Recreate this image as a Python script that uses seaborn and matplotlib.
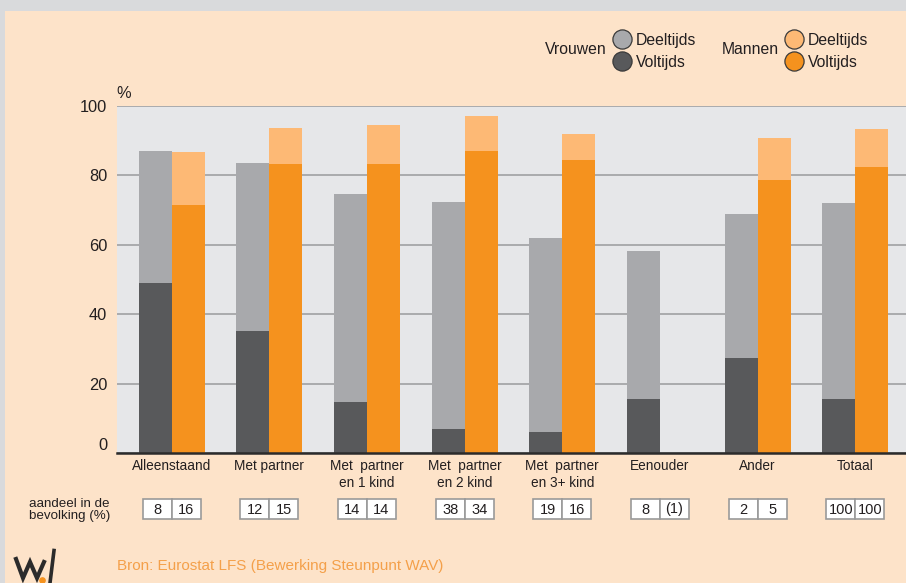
import numpy as np
import pandas as pd
import matplotlib.pyplot as plt
import seaborn as sns
from matplotlib import font_manager
from matplotlib.patches import Rectangle
from matplotlib.lines import Line2D
from matplotlib.transforms import blended_transform_factory

groepen = ['Alleenstaand', 'Met partner', 'Met  partner\nen 1 kind', 'Met  partner\nen 2 kind',
           'Met  partner\nen 3+ kind', 'Eenouder', 'Ander', 'Totaal']
vrouwen_totaal = [87.1, 83.6, 74.7, 72.2, 61.8, 58.1, 68.7, 71.9]
vrouwen_voltijds = [48.9, 35.1, 14.7, 7.0, 6.1, 15.6, 27.4, 15.6]
mannen_totaal = [86.8, 93.7, 94.5, 97.1, 92.0, np.nan, 90.8, 93.4]
mannen_voltijds = [71.3, 83.1, 83.1, 87.1, 84.5, np.nan, 78.5, 82.5]
aandeel_vrouwen = ['8', '12', '14', '38', '19', '8', '2', '100']
aandeel_mannen = ['16', '15', '14', '34', '16', '(1)', '5', '100']
yticks = [0, 20, 40, 60, 80, 100]

# kleuren
PEACH = '#fde3c9'
GRIJS_RAND = '#d9dadc'
PLOT_BG = '#e6e7e9'
V_DEEL, V_VOL = '#a8a9ac', '#58595b'
M_DEEL, M_VOL = '#fdb975', '#f5921e'
TXT = '#231f20'

names = {f.name for f in font_manager.fontManager.ttflist}
NARROW = 'Liberation Sans Narrow' if 'Liberation Sans Narrow' in names else 'Liberation Sans'
REG = 'Liberation Sans'
narrow_ok = NARROW != REG

df = pd.DataFrame({
    'groep': groepen * 2,
    'geslacht': ['Vrouwen'] * 8 + ['Mannen'] * 8,
    'totaal': vrouwen_totaal + mannen_totaal,
    'voltijds': vrouwen_voltijds + mannen_voltijds,
})

W, H = 906, 583
fig = plt.figure(figsize=(W / 100, H / 100), dpi=100)
fig.patch.set_facecolor(GRIJS_RAND)
fig.add_artist(Rectangle((5.3 / W, 0), 1, 1 - 11 / H, transform=fig.transFigure,
                         facecolor=PEACH, edgecolor='none', zorder=-5))


def fx(x):
    return x / W


def fy(y):
    return 1 - y / H


ax = fig.add_axes([fx(117), fy(453.3), (W - 117) / W, (453.3 - 105.7) / H])
ax.set_facecolor(PLOT_BG)

sns.barplot(data=df, x='groep', y='totaal', hue='geslacht', order=groepen,
            hue_order=['Vrouwen', 'Mannen'], palette=[V_DEEL, M_DEEL], width=0.676,
            saturation=1, errorbar=None, linewidth=0, legend=False, ax=ax, zorder=2)
sns.barplot(data=df, x='groep', y='voltijds', hue='geslacht', order=groepen,
            hue_order=['Vrouwen', 'Mannen'], palette=[V_VOL, M_VOL], width=0.676,
            saturation=1, errorbar=None, linewidth=0, legend=False, ax=ax, zorder=3)

ax.set_xlim(-0.56, 7.52)
ax.set_ylim(0, 100)
ax.set_yticks(yticks)
ax.set_xlabel('')
ax.set_ylabel('')
ax.set_axisbelow(True)
ax.yaxis.grid(True, color='#a5a6a8', linewidth=1.3)
ax.xaxis.grid(False)
for s in ['top', 'right', 'left']:
    ax.spines[s].set_visible(False)
ax.spines['bottom'].set_color('#2b2b2b')
ax.spines['bottom'].set_linewidth(1.8)
ax.spines['bottom'].set_zorder(5)

tick_fs = 13 if narrow_ok else 11.8
box_fs = 12 if narrow_ok else 10.5
ax.tick_params(axis='y', length=0, pad=7, labelsize=tick_fs, labelcolor=TXT)
ax.tick_params(axis='x', length=0, pad=4, labelsize=9.8, labelcolor=TXT)
for lab in ax.get_yticklabels():
    lab.set_family(NARROW)
ax.get_yticklabels()[0].set_verticalalignment('bottom')
for lab in ax.get_xticklabels():
    lab.set_family(REG)
    lab.set_linespacing(1.25)

fig.text(fx(124), fy(94), '%', ha='center', va='center', fontsize=tick_fs, family=NARROW,
         color=TXT)

# aandeel in de bevolking
fig.text(fx(69.5), fy(510), 'aandeel in de\nbevolking (%)', ha='center', va='center',
         fontsize=9.6, family=REG, color=TXT, linespacing=1.05)
tr = blended_transform_factory(ax.transData, fig.transFigure)
bw = 29 / (W - 117) * 8.08
for i in range(len(groepen)):
    for j, lab in enumerate([aandeel_vrouwen[i], aandeel_mannen[i]]):
        x0 = i - bw + j * bw
        ax.add_patch(Rectangle((x0, fy(519.3)), bw, 20.3 / H, transform=tr, clip_on=False,
                               facecolor='white', edgecolor='#9a9a9a', linewidth=1.2))
        ax.text(x0 + bw / 2, fy(509.5), lab, transform=tr, ha='center', va='center',
                fontsize=box_fs, family=NARROW, color=TXT)

# legende
for xc, kleuren, titel in [(622, (V_DEEL, V_VOL), 'Vrouwen'), (794, (M_DEEL, M_VOL), 'Mannen')]:
    for yc, kl, naam in [(38.5, kleuren[0], 'Deeltijds'), (60.5, kleuren[1], 'Voltijds')]:
        fig.add_artist(Line2D([fx(xc)], [fy(yc)], marker='o', markersize=13.8,
                              markerfacecolor=kl, markeredgecolor='#3a3a3a',
                              markeredgewidth=0.9, transform=fig.transFigure))
        fig.text(fx(xc + 14), fy(yc + 1.5), naam, ha='left', va='center', fontsize=11.3,
                 family=REG, color=TXT)
    fig.text(fx(xc - 15), fy(49.5), titel, ha='right', va='center', fontsize=11.3,
             family=REG, color=TXT)

# bron + logo
fig.text(fx(117), fy(566), 'Bron: Eurostat LFS (Bewerking Steunpunt WAV)', ha='left',
         va='center', fontsize=11, family=REG, color='#f4a04a')
lx = [16, 23, 30, 37, 44]
ly = [559, 578, 562, 578, 562]
fig.add_artist(Line2D([fx(v) for v in lx], [fy(v) for v in ly], color='#2b2b2b', lw=3,
                      solid_joinstyle='miter', transform=fig.transFigure))
fig.add_artist(Line2D([fx(50), fx(54)], [fy(583), fy(550.5)], color='#2b2b2b', lw=2.6,
                      transform=fig.transFigure))
fig.add_artist(Line2D([fx(41.7)], [fy(580)], marker='o', markersize=3.8, color='#f5921e',
                      transform=fig.transFigure))

fig.savefig('out.png', dpi=100, facecolor=fig.get_facecolor())
